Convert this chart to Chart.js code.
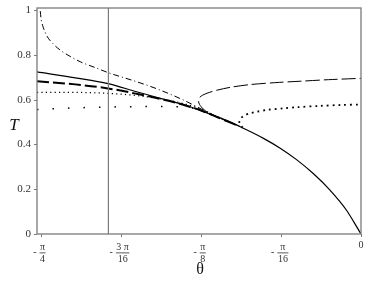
<!DOCTYPE html>
<html>
<head>
<meta charset="utf-8">
<script src="https://cdn.jsdelivr.net/npm/chart.js@4.4.0/dist/chart.umd.min.js"></script>
<style>
  html, body { margin: 0; padding: 0; background: #fff; }
  canvas { display: block; }
</style>
</head>
<body>
<canvas id="chart" width="368" height="283"></canvas>
<script>
// axis ticks
var xTickValues = [-Math.PI / 4, -3 * Math.PI / 16, -Math.PI / 8, -Math.PI / 16, 0];
var xTickNum = ["π", "3 π", "π", "π", "0"];
var xTickDen = ["4", "16", "8", "16", ""];
var yTickValues = [0, 0.2, 0.4, 0.6, 0.8, 1];
var yTickLabels = ["0", "0.2", "0.4", "0.6", "0.8", "1"];

// vertical marker
var markerTheta = -0.619;

// solid curve (includes the shared lower branch down to 0)
var solidTheta = [-0.794, -0.70, -0.62, -0.55, -0.48, -0.43, -0.40, -0.37, -0.321, -0.296, -0.239, -0.198, -0.158, -0.117, -0.076, -0.035, -0.017, 0];
var solidT = [0.724, 0.697, 0.671, 0.635, 0.600, 0.575, 0.556, 0.535, 0.501, 0.479, 0.427, 0.383, 0.332, 0.270, 0.196, 0.105, 0.052, 0];

// thick long dash
var dashTheta = [-0.794, -0.70, -0.62, -0.55, -0.48, -0.43, -0.39, -0.35, -0.30];
var dashT = [0.682, 0.668, 0.650, 0.626, 0.598, 0.574, 0.550, 0.520, 0.482];

// dash-dot
var dashDotTheta = [-0.786, -0.784, -0.78, -0.77, -0.755, -0.737, -0.71, -0.688, -0.65, -0.619, -0.55, -0.50, -0.435, -0.40, -0.37, -0.33];
var dashDotT = [0.995, 0.96, 0.93, 0.885, 0.85, 0.821, 0.79, 0.769, 0.742, 0.720, 0.680, 0.648, 0.598, 0.566, 0.538, 0.505];

// dense dots
var dotTheta = [-0.794, -0.70, -0.62, -0.55, -0.48, -0.43, -0.39, -0.35, -0.30];
var dotT = [0.632, 0.632, 0.628, 0.618, 0.600, 0.580, 0.556, 0.522, 0.482];

// sparse dots
var sparseTheta = [-0.794, -0.70, -0.62, -0.50, -0.43, -0.39, -0.35, -0.30];
var sparseT = [0.556, 0.563, 0.567, 0.569, 0.566, 0.553, 0.522, 0.482];

// upper branch, long dash
var branchTheta = [-0.378, -0.392, -0.398, -0.396, -0.388, -0.372, -0.353, -0.32, -0.272, -0.20, -0.149, -0.08, 0];
var branchT = [0.545, 0.568, 0.590, 0.608, 0.620, 0.632, 0.642, 0.655, 0.667, 0.677, 0.682, 0.689, 0.695];

// upper branch, dotted
var branch2Theta = [-0.290, -0.298, -0.296, -0.288, -0.275, -0.255, -0.23, -0.19, -0.158, -0.10, -0.05, 0];
var branch2T = [0.475, 0.495, 0.513, 0.527, 0.537, 0.546, 0.554, 0.561, 0.566, 0.572, 0.576, 0.578];

var xMin = -0.794, xMax = 0, yMin = 0, yMax = 1.009;
var axisGray = "#7a7a7a";
var serif = "'Liberation Serif', 'Times New Roman', 'DejaVu Serif', serif";

function pts(xs, ys) {
  return xs.map(function (x, i) { return { x: x, y: ys[i] }; });
}

function line(data, dash, width, monotone) {
  return {
    data: data,
    showLine: true,
    borderColor: "#000",
    borderWidth: width,
    borderDash: dash,
    pointRadius: 0,
    tension: 0.3,
    cubicInterpolationMode: monotone ? "monotone" : "default",
    fill: false,
  };
}

var framePlugin = {
  id: "frame",
  afterDraw: function (chart) {
    var ctx = chart.ctx;
    var a = chart.chartArea;
    var xs = chart.scales.x, ys = chart.scales.y;
    ctx.save();
    ctx.strokeStyle = axisGray;
    ctx.lineWidth = 1.3;
    ctx.strokeRect(a.left, a.top, a.right - a.left, a.bottom - a.top);

    // ticks
    ctx.lineWidth = 1;
    yTickValues.forEach(function (v) {
      var y = Math.round(ys.getPixelForValue(v)) + 0.5;
      ctx.beginPath();
      ctx.moveTo(a.left - 3, y);
      ctx.lineTo(a.left, y);
      ctx.stroke();
    });
    xTickValues.forEach(function (v) {
      var x = Math.round(xs.getPixelForValue(v)) + 0.5;
      ctx.beginPath();
      ctx.moveTo(x, a.bottom);
      ctx.lineTo(x, a.bottom + 3);
      ctx.stroke();
    });

    // y labels
    ctx.fillStyle = "#333";
    ctx.font = "11px " + serif;
    ctx.textAlign = "right";
    ctx.textBaseline = "middle";
    yTickValues.forEach(function (v, i) {
      ctx.fillText(yTickLabels[i], a.left - 6, ys.getPixelForValue(v));
    });

    // x labels as fractions
    ctx.font = "10px " + serif;
    ctx.textAlign = "center";
    xTickValues.forEach(function (v, i) {
      var x = xs.getPixelForValue(v);
      if (!xTickDen[i]) {
        ctx.textBaseline = "middle";
        ctx.fillText(xTickNum[i], x, a.bottom + 11);
        return;
      }
      var cx = x + 2;
      var w = Math.max(ctx.measureText(xTickNum[i]).width, ctx.measureText(xTickDen[i]).width) + 1;
      ctx.textBaseline = "middle";
      ctx.fillText(xTickNum[i], cx, a.bottom + 13);
      ctx.fillText(xTickDen[i], cx, a.bottom + 25);
      ctx.fillRect(cx - w / 2, a.bottom + 18.5, w, 0.8);
      ctx.textAlign = "right";
      ctx.fillText("-", cx - w / 2 - 3, a.bottom + 18);
      ctx.textAlign = "center";
    });

    // axis titles
    ctx.fillStyle = "#111";
    ctx.font = "italic 17px " + serif;
    ctx.textBaseline = "middle";
    ctx.fillText("T", 14, 126);
    ctx.font = "16px " + serif;
    ctx.fillText("θ", 200, 270);
    ctx.restore();
  },
};

new Chart(document.getElementById("chart"), {
  type: "scatter",
  data: {
    datasets: [
      {
        data: pts([markerTheta, markerTheta], [yMin, yMax]),
        showLine: true,
        borderColor: axisGray,
        borderWidth: 1.2,
        pointRadius: 0,
      },
      line(pts(solidTheta, solidT), [], 1.2, true),
      line(pts(dashTheta, dashT), [12, 4], 2, true),
      line(pts(dashDotTheta, dashDotT), [6, 3, 1, 3], 1, true),
      line(pts(dotTheta, dotT), [1.2, 3.2], 1.2, true),
      line(pts(sparseTheta, sparseT), [1.5, 14], 1.5, true),
      line(pts(branchTheta, branchT), [14, 4], 1, false),
      line(pts(branch2Theta, branch2T), [1.8, 4], 1.8, false),
    ],
  },
  options: {
    responsive: false,
    animation: false,
    layout: { padding: { left: 37, right: 7, top: 8, bottom: 49 } },
    plugins: { legend: { display: false }, tooltip: { enabled: false } },
    scales: {
      x: { type: "linear", min: xMin, max: xMax, display: false },
      y: { type: "linear", min: yMin, max: yMax, display: false },
    },
  },
  plugins: [framePlugin],
});
</script>
</body>
</html>
